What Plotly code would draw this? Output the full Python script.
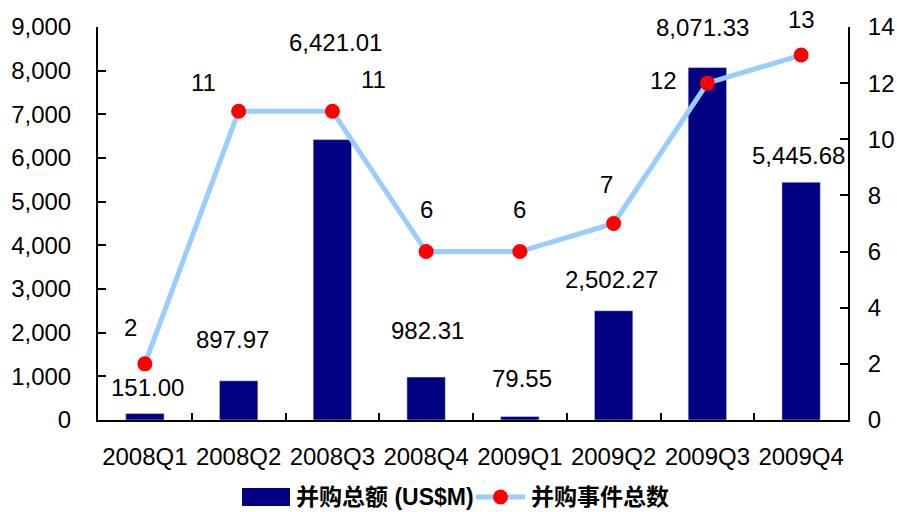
import plotly.graph_objects as go

quarters = ["2008Q1", "2008Q2", "2008Q3", "2008Q4", "2009Q1", "2009Q2", "2009Q3", "2009Q4"]
amount = [151.00, 897.97, 6421.01, 982.31, 79.55, 2502.27, 8071.33, 5445.68]
events = [2, 11, 11, 6, 6, 7, 12, 13]
amount_labels = ["151.00", "897.97", "6,421.01", "982.31", "79.55", "2,502.27", "8,071.33", "5,445.68"]
bar_name = "并购总额 (US$M)"
line_name = "并购事件总数"

# label offsets in pixels (style)
bar_dx = [3, -6, 3, 1, 2, -2, -5, -3]
bar_dy = [26, 41, 97, 47, 38, 31, 40, 27]
line_dx = [-14, -35, 41, 0, 0, -7, -44, 0]
line_dy = [36, 29, 32, 42, 42, 39, 3, 36]

FONT = "Liberation Sans, Arial, Noto Sans CJK SC, sans-serif"
FS = 24
LFS = 23
W, H = 897, 512
L, R, T, B = 98, 49, 27, 92
NAVY = "#000080"
LBLUE = "#99CCFF"
RED = "#FF0000"

fig = go.Figure()
fig.add_trace(go.Bar(x=quarters, y=amount, name=bar_name, marker_color=NAVY,
                     width=0.41, yaxis="y", showlegend=False))
fig.add_trace(go.Scatter(x=quarters, y=events, name=line_name, mode="lines+markers",
                         line=dict(color=LBLUE, width=5),
                         marker=dict(color=RED, size=15), yaxis="y2", showlegend=False))

ann = []
for q, v, t, dx, dy in zip(quarters, amount, amount_labels, bar_dx, bar_dy):
    ann.append(dict(x=q, y=v, xref="x", yref="y", text=t, showarrow=False,
                    xshift=dx, yshift=dy, font=dict(size=FS, color="black", family=FONT)))
for q, v, dx, dy in zip(quarters, events, line_dx, line_dy):
    ann.append(dict(x=q, y=v, xref="x", yref="y2", text=str(v), showarrow=False,
                    xshift=dx, yshift=dy, font=dict(size=FS, color="black", family=FONT)))

# manual legend (paper coords from pixel positions)
pw, ph = W - L - R, H - T - B
def px(x):
    return (x - L) / pw
def py(y):
    return (H - B - y) / ph

leg_y = 497
shapes = [
    dict(type="rect", xref="paper", yref="paper", x0=px(242), x1=px(290),
         y0=py(506), y1=py(488), fillcolor=NAVY, line=dict(width=0)),
    dict(type="line", xref="paper", yref="paper", x0=px(476), x1=px(525),
         y0=py(leg_y), y1=py(leg_y), line=dict(color=LBLUE, width=5)),
    dict(type="circle", xref="paper", yref="paper", x0=px(493), x1=px(508),
         y0=py(leg_y + 7.5), y1=py(leg_y - 7.5), fillcolor=RED, line=dict(width=0)),
]
ann.append(dict(xref="paper", yref="paper", x=px(294), y=py(leg_y), xanchor="left",
                yanchor="middle", text="<b>" + bar_name + "</b>", showarrow=False,
                font=dict(size=LFS, color="black", family=FONT)))
ann.append(dict(xref="paper", yref="paper", x=px(529), y=py(leg_y), xanchor="left",
                yanchor="middle", text="<b>" + line_name + "</b>", showarrow=False,
                font=dict(size=LFS, color="black", family=FONT)))

fig.update_layout(
    width=W, height=H,
    margin=dict(l=L, r=R, t=T, b=B, autoexpand=False),
    paper_bgcolor="white", plot_bgcolor="white",
    font=dict(family=FONT, size=FS, color="black"),
    showlegend=False,
    xaxis=dict(type="category", showline=True, linecolor="black", linewidth=2,
               ticks="inside", tickson="boundaries", ticklen=7, tickwidth=2, tickcolor="black",
               showgrid=False, ticklabelstandoff=14, range=[-0.5, 7.5], automargin=False,
               tickangle=0),
    yaxis=dict(range=[0, 9000], dtick=1000, tickformat=",", showline=True, linecolor="black",
               linewidth=2, ticks="inside", ticklen=8, tickwidth=2, tickcolor="black",
               showgrid=False, zeroline=False, ticklabelstandoff=20, automargin=False),
    yaxis2=dict(range=[0, 14], dtick=2, overlaying="y", side="right", showline=True,
                linecolor="black", linewidth=2, ticks="inside", ticklen=8, tickwidth=2,
                tickcolor="black", showgrid=False, zeroline=False, ticklabelstandoff=13,
                automargin=False),
    annotations=ann,
    shapes=shapes,
)

fig.write_html("out.html")
